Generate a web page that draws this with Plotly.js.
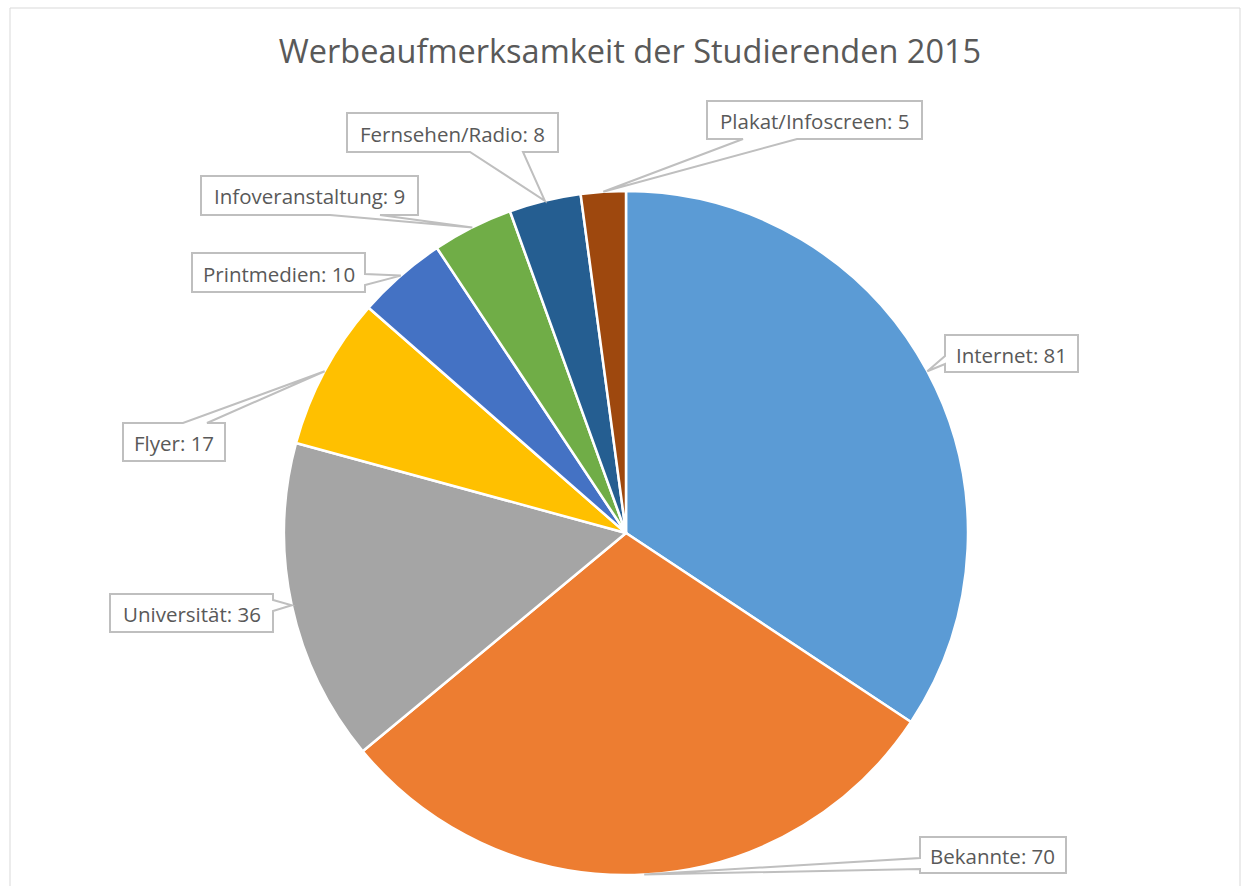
<!DOCTYPE html>
<html><head><meta charset="utf-8">
<script src="https://cdn.plot.ly/plotly-3.0.1.min.js"></script>
<style>html,body{margin:0;padding:0;background:#fff}#chart{width:1248px;height:886px}</style>
</head><body><div id="chart"></div>
<script>
// ---- data ----
const categories = ["Internet", "Bekannte", "Universität", "Flyer", "Printmedien", "Infoveranstaltung", "Fernsehen/Radio", "Plakat/Infoscreen"];
const values = [81, 70, 36, 17, 10, 9, 8, 5];
const colors = ["#5B9BD5", "#ED7D31", "#A5A5A5", "#FFC000", "#4472C4", "#70AD47", "#255E91", "#9E480E"];
const titleText = "Werbeaufmerksamkeit der Studierenden 2015";

// ---- layout constants (pixels) ----
const W = 1248, H = 886;
const CX = 626, CY = 533, R = 342;
// label boxes: [x0, y0, x1, y1], side of callout, base positions along side
const boxes = [
  {b:[945,335,1078,372], side:"left",   base:[356,364]},
  {b:[920,837,1066,873], side:"left",   base:[858,869]},
  {b:[110,594,273,632],  side:"right",  base:[600,611]},
  {b:[123,423,225,461],  side:"top",    base:[183,207]},
  {b:[192,253,365,292],  side:"right",  base:[274,285]},
  {b:[201,176,418,215],  side:"bottom", base:[330,380]},
  {b:[347,113,558,152],  side:"bottom", base:[470,523]},
  {b:[707,101,922,139],  side:"bottom", base:[743,797]}
];

const px = x => x / W, py = y => 1 - y / H;
const total = values.reduce((a, b) => a + b, 0);
let cum = 0;
const shapes = [{type:"rect", xref:"paper", yref:"paper", x0:px(10), x1:px(1240), y0:py(900), y1:py(8),
  line:{color:"#D9D9D9", width:1}, fillcolor:"rgba(0,0,0,0)", layer:"below"}];
const annotations = [];
values.forEach((v, i) => {
  const mid = (cum + v / 2) / total * 2 * Math.PI;
  cum += v;
  const tx = CX + R * Math.sin(mid), ty = CY - R * Math.cos(mid);
  const bx = boxes[i], [x0, y0, x1, y1] = bx.b, [a, b2] = bx.base;
  let pts;
  if (bx.side === "left")   pts = [[x0,y0],[x1,y0],[x1,y1],[x0,y1],[x0,b2],[tx,ty],[x0,a]];
  if (bx.side === "right")  pts = [[x0,y0],[x1,y0],[x1,a],[tx,ty],[x1,b2],[x1,y1],[x0,y1]];
  if (bx.side === "top")    pts = [[x0,y0],[a,y0],[tx,ty],[b2,y0],[x1,y0],[x1,y1],[x0,y1]];
  if (bx.side === "bottom") pts = [[x0,y0],[x1,y0],[x1,y1],[b2,y1],[tx,ty],[a,y1],[x0,y1]];
  const path = "M" + pts.map(p => px(p[0]).toFixed(5) + "," + py(p[1]).toFixed(5)).join(" L") + " Z";
  shapes.push({type:"path", xref:"paper", yref:"paper", path:path, line:{color:"#BFBFBF", width:2}, fillcolor:"#FFFFFF"});
  annotations.push({xref:"paper", yref:"paper", x:px((x0+x1)/2), y:py((y0+y1)/2 + 1), xanchor:"center", yanchor:"middle",
    text: categories[i] + ": " + v, showarrow:false, font:{family:"Open Sans, Noto Sans, sans-serif", size:20.5, color:"#595959"}});
});

const trace = {
  type:"pie", labels:categories, values:values, sort:false, direction:"clockwise", rotation:0,
  marker:{colors:colors, line:{color:"#FFFFFF", width:2.5}},
  textinfo:"none", hoverinfo:"label+value", showlegend:false,
  domain:{x:[(CX-R)/W, (CX+R)/W], y:[1-(CY+R)/H, 1-(CY-R)/H]}
};
const layout = {
  width:W, height:H, margin:{l:0, r:0, t:0, b:0}, paper_bgcolor:"#FFFFFF",
  title:{text:titleText, x:px(630), xanchor:"center", y:py(52), yanchor:"middle", font:{family:"Open Sans, Noto Sans, sans-serif", size:32.5, color:"#595959"}},
  shapes:shapes, annotations:annotations, showlegend:false
};
Plotly.newPlot("chart", [trace], layout, {displayModeBar:false, staticPlot:true});
</script></body></html>
